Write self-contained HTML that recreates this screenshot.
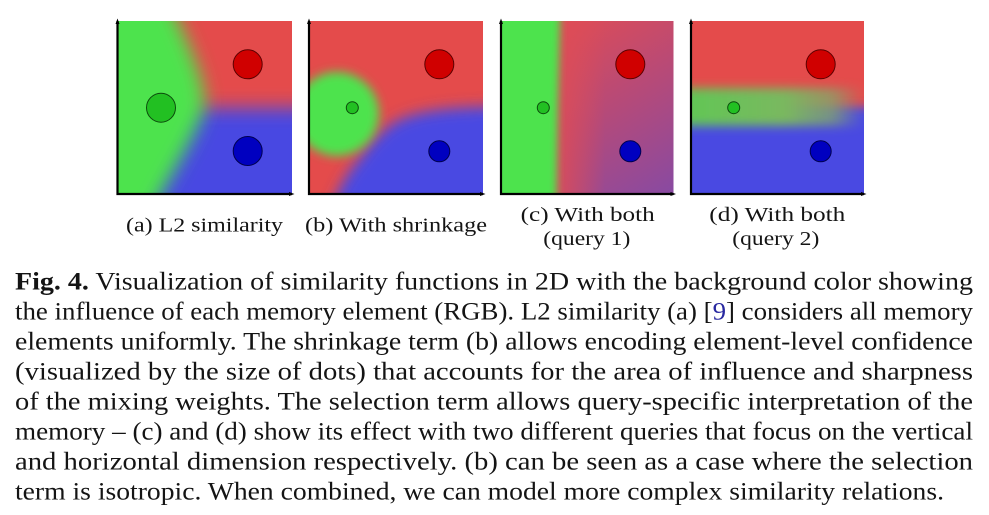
<!DOCTYPE html>
<html>
<head>
<meta charset="utf-8">
<style>
  html, body { margin: 0; padding: 0; background: #ffffff; }
  body { width: 989px; height: 515px; overflow: hidden; }
  svg { display: block; }
  text { font-family: "Liberation Serif", "DejaVu Serif", serif; fill: #141414; }
</style>
</head>
<body>
<svg width="989" height="515" viewBox="0 0 989 515" xmlns="http://www.w3.org/2000/svg">
  <defs>
    <clipPath id="ca"><rect x="117" y="21" width="175" height="173"/></clipPath>
    <clipPath id="cb"><rect x="308.5" y="21" width="174.5" height="173"/></clipPath>
    <clipPath id="cc"><rect x="500.5" y="21" width="173" height="173"/></clipPath>
    <clipPath id="cd"><rect x="690.5" y="21" width="173.5" height="173"/></clipPath>

    <filter id="b9" filterUnits="userSpaceOnUse" x="0" y="-50" width="989" height="615">
      <feGaussianBlur stdDeviation="9"/>
    </filter>
    <filter id="b7" filterUnits="userSpaceOnUse" x="0" y="-50" width="989" height="615">
      <feGaussianBlur stdDeviation="7"/>
    </filter>
    <filter id="b5" filterUnits="userSpaceOnUse" x="0" y="-50" width="989" height="615">
      <feGaussianBlur stdDeviation="5"/>
    </filter>
    <filter id="b4" filterUnits="userSpaceOnUse" x="0" y="-50" width="989" height="615">
      <feGaussianBlur stdDeviation="4"/>
    </filter>

    <linearGradient id="gc" gradientUnits="userSpaceOnUse" x1="565" y1="21" x2="673" y2="194">
      <stop offset="0" stop-color="#de4c56"/>
      <stop offset="0.5" stop-color="#b44a7a"/>
      <stop offset="1" stop-color="#884aa2"/>
    </linearGradient>
    <linearGradient id="gcr" gradientUnits="userSpaceOnUse" x1="556" y1="0" x2="605" y2="0">
      <stop offset="0" stop-color="#de4c56" stop-opacity="0.9"/>
      <stop offset="1" stop-color="#de4c56" stop-opacity="0"/>
    </linearGradient>
    <linearGradient id="gd" gradientUnits="userSpaceOnUse" x1="690" y1="0" x2="864" y2="0">
      <stop offset="0" stop-color="#62c656" stop-opacity="1"/>
      <stop offset="0.55" stop-color="#7ab85f" stop-opacity="1"/>
      <stop offset="0.82" stop-color="#84a86a" stop-opacity="0.75"/>
      <stop offset="1" stop-color="#869a76" stop-opacity="0"/>
    </linearGradient>
  </defs>

  <!-- Panel (a) -->
  <g clip-path="url(#ca)">
    <rect x="117" y="21" width="175" height="173" fill="#4848e2"/>
    <rect x="100" y="-30" width="220" height="138" fill="#e44b4b" filter="url(#b9)"/>
    <path d="M 60,-20 L 160,-20 C 182,30 210,85 204,110 C 194,140 172,172 145,225 L 60,225 Z" fill="#4ee34e" filter="url(#b9)"/>
  </g>

  <!-- Panel (b) -->
  <g clip-path="url(#cb)">
    <rect x="308.5" y="21" width="174.5" height="173" fill="#e44b4b"/>
    <path d="M 510,106 L 483,107 Q 420,108 395,122 Q 375,135 360,158 Q 340,180 325,225 L 510,225 Z" fill="#4848e2" filter="url(#b7)"/>
    <circle cx="337" cy="114" r="42" fill="#4ee34e" filter="url(#b5)"/>
  </g>

  <!-- Panel (c) -->
  <g clip-path="url(#cc)">
    <rect x="500.5" y="21" width="173" height="173" fill="url(#gc)"/>
    <rect x="550" y="0" width="60" height="215" fill="url(#gcr)"/>
    <path d="M 470,-20 L 561,-20 L 558,108 L 556,225 L 470,225 Z" fill="#4ee34e" filter="url(#b4)"/>
  </g>

  <!-- Panel (d) -->
  <g clip-path="url(#cd)">
    <rect x="690.5" y="21" width="173.5" height="173" fill="#e44b4b"/>
    <rect x="670" y="107" width="220" height="130" fill="#4848e2" filter="url(#b5)"/>
    <rect x="650" y="88" width="220" height="38" fill="url(#gd)" filter="url(#b5)"/>
  </g>

  <!-- Dots -->
  <g stroke-width="1">
    <circle cx="161" cy="107.7" r="14.5" fill="#22c022" stroke="#0c4a0c"/>
    <circle cx="247.7" cy="64.3" r="14.5" fill="#d00000" stroke="#5a0000"/>
    <circle cx="247.7" cy="151" r="14.5" fill="#0000c0" stroke="#000050"/>

    <circle cx="352.3" cy="107.7" r="6" fill="#22c022" stroke="#0c4a0c"/>
    <circle cx="439.3" cy="64.3" r="14.5" fill="#d00000" stroke="#5a0000"/>
    <circle cx="439.3" cy="151.3" r="10.5" fill="#0000c0" stroke="#000050"/>

    <circle cx="543.3" cy="107.7" r="6" fill="#22c022" stroke="#0c4a0c"/>
    <circle cx="630.3" cy="64.3" r="14.5" fill="#d00000" stroke="#5a0000"/>
    <circle cx="630.3" cy="151.3" r="10.5" fill="#0000c0" stroke="#000050"/>

    <circle cx="733.7" cy="107.7" r="6" fill="#22c022" stroke="#0c4a0c"/>
    <circle cx="820.7" cy="64.3" r="14.5" fill="#d00000" stroke="#5a0000"/>
    <circle cx="820.7" cy="151.3" r="10.5" fill="#0000c0" stroke="#000050"/>
  </g>

  <!-- Axes -->
  <g fill="none" stroke="#000" stroke-width="2.2">
    <path d="M 117.5,21 L 117.5,194 L 292,194"/>
    <path d="M 309,21 L 309,194 L 483,194"/>
    <path d="M 501,21 L 501,194 L 673.5,194"/>
    <path d="M 691,21 L 691,194 L 864,194"/>
  </g>
  <g fill="#000">
    <polygon points="115.5,24 117.5,18.5 119.5,24"/>
    <polygon points="289,192 294.5,194 289,196"/>
    <polygon points="307,24 309,18.5 311,24"/>
    <polygon points="480,192 485.5,194 480,196"/>
    <polygon points="499,24 501,18.5 503,24"/>
    <polygon points="670.5,192 676,194 670.5,196"/>
    <polygon points="689,24 691,18.5 693,24"/>
    <polygon points="861,192 866.5,194 861,196"/>
  </g>

  <!-- Sub-captions -->
  <g font-size="20">
    <text x="126" y="231.7" textLength="157" lengthAdjust="spacingAndGlyphs">(a) L2 similarity</text>
    <text x="305" y="231.7" textLength="182" lengthAdjust="spacingAndGlyphs">(b) With shrinkage</text>
    <text x="520.7" y="221" textLength="134" lengthAdjust="spacingAndGlyphs">(c) With both</text>
    <text x="543.3" y="245" textLength="87" lengthAdjust="spacingAndGlyphs">(query 1)</text>
    <text x="709.3" y="221" textLength="136" lengthAdjust="spacingAndGlyphs">(d) With both</text>
    <text x="732.3" y="245" textLength="87" lengthAdjust="spacingAndGlyphs">(query 2)</text>
  </g>

  <!-- Figure caption paragraph -->
  <g font-size="25">
    <text x="15" y="289.7" textLength="958" lengthAdjust="spacingAndGlyphs"><tspan font-weight="bold">Fig. 4.</tspan> Visualization of similarity functions in 2D with the background color showing</text>
    <text x="15" y="319.7" textLength="958" lengthAdjust="spacingAndGlyphs">the influence of each memory element (RGB). L2 similarity (a) [<tspan fill="#2828a0">9</tspan>] considers all memory</text>
    <text x="15" y="349.7" textLength="958" lengthAdjust="spacingAndGlyphs">elements uniformly. The shrinkage term (b) allows encoding element-level confidence</text>
    <text x="15" y="379.7" textLength="958" lengthAdjust="spacingAndGlyphs">(visualized by the size of dots) that accounts for the area of influence and sharpness</text>
    <text x="15" y="409.7" textLength="958" lengthAdjust="spacingAndGlyphs">of the mixing weights. The selection term allows query-specific interpretation of the</text>
    <text x="15" y="439.7" textLength="958" lengthAdjust="spacingAndGlyphs">memory – (c) and (d) show its effect with two different queries that focus on the vertical</text>
    <text x="15" y="469.7" textLength="958" lengthAdjust="spacingAndGlyphs">and horizontal dimension respectively. (b) can be seen as a case where the selection</text>
    <text x="15" y="499.7" textLength="929" lengthAdjust="spacingAndGlyphs">term is isotropic. When combined, we can model more complex similarity relations.</text>
  </g>
</svg>
</body>
</html>
